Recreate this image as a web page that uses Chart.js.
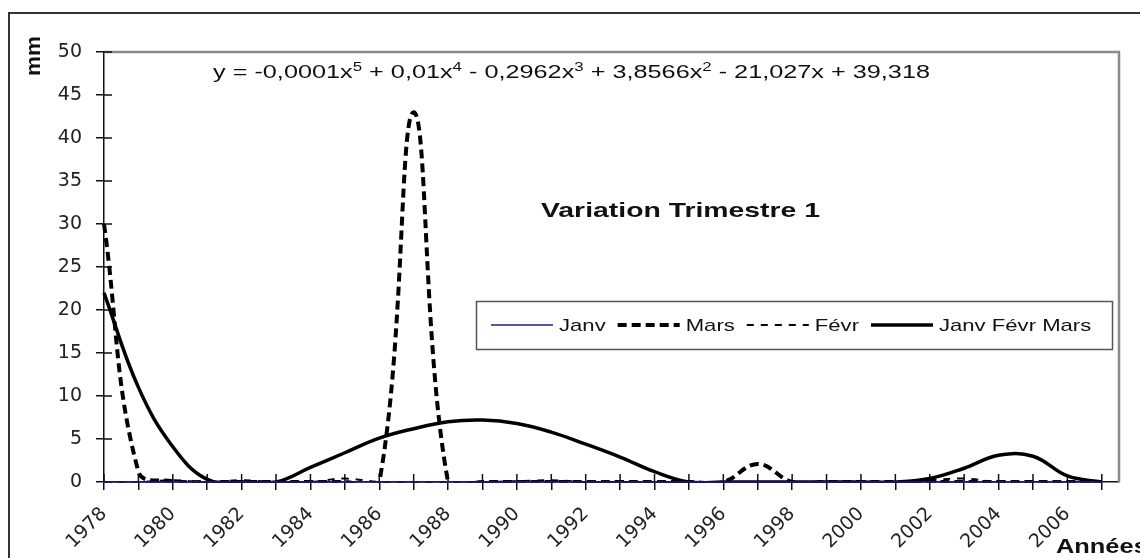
<!DOCTYPE html>
<html lang="fr">
<head>
    <meta charset="UTF-8">
    <title>Variation Trimestre 1</title>
    <style>
        body {
            margin: 0;
            padding: 0;
            background-color: #fff;
        }
        canvas {
            display: block;
        }
    </style>
</head>
<body>

    <canvas id="chart" width="1140" height="558"></canvas>

    <script src="https://cdn.jsdelivr.net/npm/chart.js"></script>
    <script>
        // Years on the x axis
        const years = [1978, 1979, 1980, 1981, 1982, 1983, 1984, 1985, 1986, 1987,
                       1988, 1989, 1990, 1991, 1992, 1993, 1994, 1995, 1996, 1997,
                       1998, 1999, 2000, 2001, 2002, 2003, 2004, 2005, 2006, 2007];

        // Rainfall (mm) per month of the first quarter
        const janv = [0, 0, 0, 0, 0, 0, 0, 0, 0, 0,
                      0, 0, 0, 0, 0, 0, 0, 0, 0, 0,
                      0, 0, 0, 0, 0, 0, 0, 0, 0, 0];
        const mars = [30, 1.2, 0.1, 0, 0, 0, 0, 0, 0, 43,
                      0, 0, 0, 0, 0, 0, 0, 0, 0, 2.1,
                      0, 0, 0, 0, 0, 0, 0, 0, 0, 0];
        const fevr = [0, 0, 0.2, 0, 0.2, 0, 0, 0.4, 0, 0,
                      0, 0, 0.1, 0.2, 0, 0, 0, 0, 0, 0,
                      0, 0, 0, 0, 0.2, 0.4, 0, 0, 0, 0];
        // Whole quarter
        const trimestre = [22, 11, 4.1, 0.3, 0, 0, 1.7, 3.4, 5.1, 6.2,
                           7.0, 7.2, 6.8, 5.8, 4.4, 2.9, 1.2, 0, 0, 0,
                           0, 0, 0, 0, 0.4, 1.6, 3.1, 3.0, 0.7, 0];

        const toPoints = arr => years.map((x, i) => ({ x: x, y: arr[i] }));

        // Draw text squeezed / widened horizontally
        function stretchText(ctx, text, x, y, font, sx, align) {
            ctx.save();
            ctx.font = font;
            ctx.textAlign = align || 'left';
            ctx.translate(x, y);
            ctx.scale(sx, 1);
            ctx.fillText(text, 0, 0);
            ctx.restore();
        }

        const decor = {
            id: 'decor',
            beforeDraw(chart) {
                const ctx = chart.ctx;
                ctx.save();
                ctx.fillStyle = '#fff';
                ctx.fillRect(0, 0, chart.width, chart.height);
                // outer frame
                ctx.strokeStyle = '#333';
                ctx.lineWidth = 2;
                ctx.beginPath();
                ctx.moveTo(9, chart.height);
                ctx.lineTo(9, 13);
                ctx.lineTo(chart.width, 13);
                ctx.stroke();
                ctx.restore();
            },
            beforeDatasetsDraw(chart) {
                const ctx = chart.ctx;
                const a = chart.chartArea;
                const xs = chart.scales.x;
                const ys = chart.scales.y;
                ctx.save();
                // plot border top and right
                ctx.strokeStyle = '#8a8a8a';
                ctx.lineWidth = 2.5;
                ctx.beginPath();
                ctx.moveTo(a.left, a.top);
                ctx.lineTo(a.right, a.top);
                ctx.lineTo(a.right, a.bottom);
                ctx.stroke();
                // inner half of the cross tick marks
                ctx.strokeStyle = '#111';
                ctx.lineWidth = 1.5;
                ctx.beginPath();
                ys.ticks.forEach(t => {
                    const py = ys.getPixelForValue(t.value);
                    ctx.moveTo(a.left, py);
                    ctx.lineTo(a.left + 8, py);
                });
                xs.ticks.forEach(t => {
                    const px = xs.getPixelForValue(t.value);
                    ctx.moveTo(px, a.bottom);
                    ctx.lineTo(px, a.bottom - 8);
                });
                ctx.stroke();
                ctx.restore();
            },
            afterDraw(chart) {
                const ctx = chart.ctx;
                ctx.save();
                ctx.fillStyle = '#111';
                ctx.textBaseline = 'alphabetic';

                // trend equation with superscripts
                const parts = [
                    ['y = -0,0001x', false], ['5', true],
                    [' + 0,01x', false], ['4', true],
                    [' - 0,2962x', false], ['3', true],
                    [' + 3,8566x', false], ['2', true],
                    [' - 21,027x + 39,318', false]
                ];
                const fNorm = '18px Arial, "Liberation Sans", sans-serif';
                const fSup = '12px Arial, "Liberation Sans", sans-serif';
                let total = 0;
                parts.forEach(p => {
                    ctx.font = p[1] ? fSup : fNorm;
                    total += ctx.measureText(p[0]).width;
                });
                const eqLeft = 213, eqRight = 930, eqBase = 78;
                const sx = (eqRight - eqLeft) / total;
                let cx = eqLeft;
                parts.forEach(p => {
                    const f = p[1] ? fSup : fNorm;
                    ctx.font = f;
                    const w = ctx.measureText(p[0]).width * sx;
                    stretchText(ctx, p[0], cx, p[1] ? eqBase - 7 : eqBase, f, sx);
                    cx += w;
                });

                // title inside the plot
                const fTitle = 'bold 21px Arial, "Liberation Sans", sans-serif';
                ctx.font = fTitle;
                const tw = ctx.measureText('Variation Trimestre 1').width;
                stretchText(ctx, 'Variation Trimestre 1', 541, 217, fTitle, 279 / tw);

                // y axis title, rotated
                const fAxis = 'bold 19px Arial, "Liberation Sans", sans-serif';
                ctx.font = fAxis;
                const mw = ctx.measureText('mm').width;
                ctx.save();
                ctx.translate(40, 56);
                ctx.rotate(-Math.PI / 2);
                ctx.scale(40 / mw, 1.1);
                ctx.textAlign = 'center';
                ctx.fillText('mm', 0, 0);
                ctx.restore();

                // x axis title
                stretchText(ctx, 'Années', 1056, 553, 'bold 20px Arial, "Liberation Sans", sans-serif', 1.27);

                // legend box
                const box = { left: 476, top: 301, right: 1112, bottom: 349 };
                ctx.fillStyle = '#fff';
                ctx.fillRect(box.left, box.top, box.right - box.left, box.bottom - box.top);
                ctx.strokeStyle = '#555';
                ctx.lineWidth = 1.5;
                ctx.strokeRect(box.left + 0.5, box.top + 0.5, box.right - box.left, box.bottom - box.top);

                const fLeg = '17px Arial, "Liberation Sans", sans-serif';
                const lsx = 1.3;
                const my = (box.top + box.bottom) / 2;
                let lx = 491;
                chart.data.datasets.forEach(ds => {
                    ctx.save();
                    ctx.strokeStyle = ds.borderColor;
                    ctx.lineWidth = ds.borderWidth;
                    ctx.setLineDash(ds.borderDash || []);
                    ctx.beginPath();
                    ctx.moveTo(lx, my);
                    ctx.lineTo(lx + 62, my);
                    ctx.stroke();
                    ctx.restore();
                    lx += 68;
                    ctx.fillStyle = '#111';
                    ctx.textBaseline = 'middle';
                    ctx.font = fLeg;
                    const w = ctx.measureText(ds.label).width * lsx;
                    stretchText(ctx, ds.label, lx, my + 1, fLeg, lsx);
                    lx += w + 12;
                });
                ctx.restore();
            }
        };

        const axisGrid = {
            display: true,
            drawOnChartArea: false,
            drawTicks: true,
            tickLength: 8,
            color: '#111',
            lineWidth: 1.5
        };

        // smoothed lines are cut at the x axis, like the original plot area
        const lineClip = { left: 6, top: 6, right: 6, bottom: 1 };

        const chart = new Chart(document.getElementById('chart').getContext('2d'), {
            type: 'line',
            data: {
                datasets: [
                    {
                        label: 'Janv',
                        data: toPoints(janv),
                        borderColor: '#1c1c8c',
                        borderWidth: 1.5,
                        pointRadius: 0,
                        tension: 0,
                        clip: 6
                    },
                    {
                        label: 'Mars',
                        data: toPoints(mars),
                        borderColor: '#000',
                        borderWidth: 4,
                        borderDash: [9, 5],
                        pointRadius: 0,
                        tension: 0.4,
                        capBezierPoints: false,
                        clip: lineClip
                    },
                    {
                        label: 'Févr',
                        data: toPoints(fevr),
                        borderColor: '#000',
                        borderWidth: 2,
                        borderDash: [7, 7],
                        pointRadius: 0,
                        tension: 0.4,
                        capBezierPoints: false,
                        clip: lineClip
                    },
                    {
                        label: 'Janv Févr Mars',
                        data: toPoints(trimestre),
                        borderColor: '#000',
                        borderWidth: 3.5,
                        pointRadius: 0,
                        tension: 0.4,
                        capBezierPoints: false,
                        clip: lineClip
                    }
                ]
            },
            options: {
                responsive: false,
                animation: false,
                devicePixelRatio: 1,
                layout: {
                    padding: { left: 0, top: 52, right: 21, bottom: 0 }
                },
                plugins: {
                    legend: { display: false },
                    title: { display: false },
                    tooltip: { enabled: false }
                },
                scales: {
                    x: {
                        type: 'linear',
                        min: 1978,
                        max: 2007.5,
                        afterBuildTicks: scale => {
                            scale.ticks = years.map(v => ({ value: v }));
                        },
                        afterFit: scale => { scale.height = 76; },
                        grid: axisGrid,
                        border: { display: true, color: '#111', width: 1.5 },
                        ticks: {
                            autoSkip: false,
                            maxRotation: 45,
                            minRotation: 45,
                            padding: 13,
                            color: '#222',
                            font: { family: '"DejaVu Sans", sans-serif', size: 19 },
                            callback: value => (value % 2 === 0 ? String(value) : '')
                        }
                    },
                    y: {
                        min: 0,
                        max: 50,
                        afterFit: scale => { scale.width = 104; },
                        grid: axisGrid,
                        border: { display: true, color: '#111', width: 1.5 },
                        ticks: {
                            stepSize: 5,
                            padding: 14,
                            color: '#222',
                            font: { family: '"DejaVu Sans", sans-serif', size: 19 }
                        }
                    }
                }
            },
            plugins: [decor]
        });
    </script>

</body>
</html>
